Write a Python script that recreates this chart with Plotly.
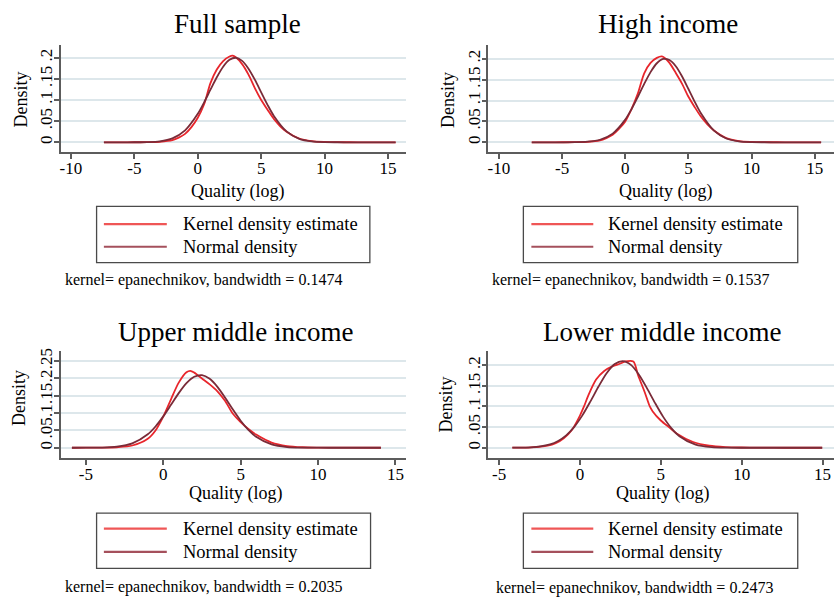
import plotly.graph_objects as go

W, H = 834, 598
SERIF = "Liberation Serif, Times New Roman, serif"

# ---------------- data ----------------
panel_titles = ["Full sample", "High income", "Upper middle income", "Lower middle income"]
bandwidths = ["0.1474", "0.1537", "0.2035", "0.2473"]
series_names = ["Kernel density estimate", "Normal density"]
x_axis_title = "Quality (log)"
y_axis_title = "Density"

x_tickvals_top = [-10, -5, 0, 5, 10, 15]
x_ticktext_top = ["-10", "-5", "0", "5", "10", "15"]
x_tickvals_bottom = [-5, 0, 5, 10, 15]
x_ticktext_bottom = ["-5", "0", "5", "10", "15"]
y_tickvals_a = [0, 0.05, 0.1, 0.15, 0.2]
y_ticktext_a = ["0", ".05", ".1", ".15", ".2"]
y_tickvals_b = [0, 0.05, 0.1, 0.15, 0.2, 0.25]
y_ticktext_b = ["0", ".05", ".1", ".15", ".2", ".25"]

# Full sample
full_kde_x = [-7.4, -6, -5, -4, -3, -2, -1.5, -1, -0.5, 0, 0.5, 1, 1.5, 2, 2.5, 2.75, 3, 3.5, 4, 4.5,
              5, 5.5, 6, 6.5, 7, 8, 9, 10, 11, 12, 13, 15.6]
full_kde_y = [0, 0, 0.0001, 0.0003, 0.0012, 0.005, 0.011, 0.02, 0.036, 0.058, 0.09, 0.14, 0.172, 0.192,
              0.203, 0.205, 0.201, 0.185, 0.16, 0.128, 0.1, 0.077, 0.055, 0.038, 0.025, 0.009, 0.003,
              0.001, 0.0003, 0.0001, 0, 0]
full_norm_x = [-7.4, -6, -5, -4, -3, -2, -1, 0, 0.5, 1, 1.5, 2, 2.5, 3, 3.5, 4, 4.5, 5, 5.5, 6, 7, 8,
               9, 10, 11, 12, 15.6]
full_norm_y = [0, 0, 0.0001, 0.0005, 0.0024, 0.0094, 0.0284, 0.0674, 0.0945, 0.1244, 0.1538, 0.1787,
               0.195, 0.2, 0.1926, 0.1742, 0.1482, 0.1183, 0.0887, 0.0625, 0.0258, 0.0082, 0.0021,
               0.0004, 0.0001, 0, 0]

# High income
high_kde_x = [-7.4, -6, -5, -4, -3, -2, -1.5, -1, -0.5, 0, 0.5, 1, 1.5, 2, 2.5, 2.9, 3.2, 3.5, 4, 4.5,
              5, 5.5, 6, 6.5, 7, 8, 9, 10, 11, 12, 13, 15.5]
high_kde_y = [0, 0, 0.0001, 0.0003, 0.001, 0.0045, 0.01, 0.018, 0.032, 0.05, 0.08, 0.117, 0.165, 0.19,
              0.202, 0.2055, 0.2, 0.19, 0.166, 0.14, 0.109, 0.084, 0.061, 0.043, 0.029, 0.01, 0.003,
              0.001, 0.0003, 0.0001, 0, 0]
high_norm_x = [-7.4, -6, -5, -4, -3, -2, -1, 0, 0.5, 1, 1.5, 2, 2.5, 3, 3.5, 4, 4.5, 5, 5.5, 6, 7, 8,
               9, 10, 11, 12, 15.5]
high_norm_y = [0, 0, 0, 0.0002, 0.0014, 0.0061, 0.0208, 0.0543, 0.0795, 0.1089, 0.1398, 0.168, 0.1892,
               0.1994, 0.1968, 0.1819, 0.1574, 0.1275, 0.0968, 0.0687, 0.0285, 0.0091, 0.0022, 0.0004,
               0.0001, 0, 0]

# Upper middle income
upper_kde_x = [-5.9, -5, -4, -3, -2, -1, -0.5, 0, 0.5, 1, 1.5, 1.75, 2, 2.5, 3, 3.5, 4, 4.5, 5, 5.5,
               6, 7, 8, 9, 10, 11, 12, 14.06]
upper_kde_y = [0, 0.0001, 0.0004, 0.0015, 0.0065, 0.026, 0.05, 0.09, 0.14, 0.188, 0.218, 0.222, 0.217,
               0.2, 0.183, 0.163, 0.135, 0.098, 0.074, 0.054, 0.038, 0.015, 0.005, 0.0015, 0.0005,
               0.0002, 0.0001, 0]
upper_norm_x = [-5.9, -5, -4, -3, -2, -1, -0.5, 0, 0.5, 1, 1.5, 2, 2.5, 3, 3.5, 4, 4.5, 5, 5.5, 6, 7,
                8, 9, 10, 11, 14.06]
upper_norm_y = [0, 0.0001, 0.0005, 0.003, 0.0124, 0.0388, 0.0614, 0.0906, 0.124, 0.1578, 0.1866,
                0.2051, 0.2097, 0.1992, 0.176, 0.1445, 0.1103, 0.0782, 0.0516, 0.0316, 0.0096, 0.0021,
                0.0004, 0.0001, 0, 0]

# Lower middle income
lower_kde_x = [-4.18, -3, -2, -1.5, -1, -0.5, 0, 0.25, 0.5, 1, 1.5, 2, 2.5, 2.8, 3.3, 3.6, 4, 4.32,
               4.5, 5, 5.5, 6, 7, 8, 9, 10, 11, 12, 13, 14.98]
lower_kde_y = [0.0001, 0.0008, 0.005, 0.011, 0.023, 0.043, 0.078, 0.1, 0.125, 0.165, 0.186, 0.197,
               0.204, 0.209, 0.209, 0.175, 0.135, 0.1, 0.088, 0.066, 0.05, 0.034, 0.014, 0.005,
               0.0017, 0.0006, 0.0002, 0.0001, 0, 0]
lower_norm_x = [-4.18, -2.85, -1.85, -1.35, -0.85, -0.35, 0.15, 0.65, 1.15, 1.65, 2.15, 2.65, 3.15,
                3.65, 4.15, 4.65, 5.15, 5.65, 6.15, 7.15, 8.15, 9.15, 10.15, 14.98]
lower_norm_y = [0.0001, 0.0017, 0.0083, 0.0165, 0.0301, 0.0506, 0.0784, 0.1123, 0.1482, 0.1804,
                0.2026, 0.21, 0.2007, 0.177, 0.1439, 0.108, 0.0748, 0.0477, 0.0281, 0.0076, 0.0015,
                0.0002, 0, 0]

# ---------------- styling / layout ----------------
KDE_COLOR = "#e8262c"
NORM_COLOR = "#7a2b38"
AXIS_COLOR = "#5c5c5c"
GRID_COLOR = "#dde7eb"


def px(x):
    return x / W


def py(y):
    return 1 - y / H


panels = [
    dict(kx=full_kde_x, ky=full_kde_y, nx=full_norm_x, ny=full_norm_y,
         dom_x=(60, 405), dom_y=(42.7, 150), xr=[-10.79, 16.38], yr=[-0.0235, 0.229],
         xt=(x_tickvals_top, x_ticktext_top), yt=(y_tickvals_a, y_ticktext_a),
         title_pos=(237, 21), ytitle_pos=(20, 97), xtitle_pos=(237, 189),
         legend_box=(95.7, 204.3, 369.3, 261), legend_rows=(222.3, 245),
         legend_line=(103, 166), legend_text_x=180, note_pos=(62, 278)),
    dict(kx=high_kde_x, ky=high_kde_y, nx=high_norm_x, ny=high_norm_y,
         dom_x=(488, 834), dom_y=(42.7, 150), xr=[-10.83, 16.52], yr=[-0.0238, 0.2317],
         xt=(x_tickvals_top, x_ticktext_top), yt=(y_tickvals_a, y_ticktext_a),
         title_pos=(668, 21), ytitle_pos=(447, 97), xtitle_pos=(665, 189),
         legend_box=(523, 204.3, 797.7, 261), legend_rows=(222.3, 245),
         legend_line=(531, 593), legend_text_x=606, note_pos=(490, 278)),
    dict(kx=upper_kde_x, ky=upper_kde_y, nx=upper_norm_x, ny=upper_norm_y,
         dom_x=(60, 405), dom_y=(350, 457.3), xr=[-6.61, 15.65], yr=[-0.0296, 0.2787],
         xt=(x_tickvals_bottom, x_ticktext_bottom), yt=(y_tickvals_b, y_ticktext_b),
         title_pos=(235, 331), ytitle_pos=(18, 397), xtitle_pos=(235, 493),
         legend_box=(95.7, 512.7, 370, 568.3), legend_rows=(528.3, 551.7),
         legend_line=(103, 166), legend_text_x=180, note_pos=(62, 587)),
    dict(kx=lower_kde_x, ky=lower_kde_y, nx=lower_norm_x, ny=lower_norm_y,
         dom_x=(488, 834), dom_y=(350, 457.3), xr=[-5.66, 15.71], yr=[-0.0248, 0.2337],
         xt=(x_tickvals_bottom, x_ticktext_bottom), yt=(y_tickvals_a, y_ticktext_a),
         title_pos=(662, 331), ytitle_pos=(446, 403), xtitle_pos=(662, 493),
         legend_box=(523, 512.7, 797.7, 568.3), legend_rows=(528.3, 551.7),
         legend_line=(531, 593), legend_text_x=606, note_pos=(494, 588)),
]

fig = go.Figure()
annotations = []
shapes = []
layout_axes = {}

for i, p in enumerate(panels):
    n = i + 1
    xa = "x" if n == 1 else f"x{n}"
    ya = "y" if n == 1 else f"y{n}"
    fig.add_trace(go.Scatter(x=p["kx"], y=p["ky"], mode="lines", name=series_names[0],
                             line=dict(color=KDE_COLOR, width=1.8, shape="spline", smoothing=0.8),
                             xaxis=xa, yaxis=ya, showlegend=False, hoverinfo="skip"))
    fig.add_trace(go.Scatter(x=p["nx"], y=p["ny"], mode="lines", name=series_names[1],
                             line=dict(color=NORM_COLOR, width=1.8, shape="spline", smoothing=0.8),
                             xaxis=xa, yaxis=ya, showlegend=False, hoverinfo="skip"))

    xkey = "xaxis" if n == 1 else f"xaxis{n}"
    ykey = "yaxis" if n == 1 else f"yaxis{n}"
    layout_axes[xkey] = dict(
        domain=[px(p["dom_x"][0]), px(p["dom_x"][1])], range=p["xr"], anchor=ya,
        showline=True, linecolor=AXIS_COLOR, linewidth=1.5,
        ticks="outside", ticklen=5, tickwidth=1.5, tickcolor=AXIS_COLOR,
        tickmode="array", tickvals=p["xt"][0], ticktext=p["xt"][1],
        tickfont=dict(family=SERIF, size=17, color="black"), ticklabelstandoff=-5,
        showgrid=False, zeroline=False, fixedrange=True)
    layout_axes[ykey] = dict(
        domain=[py(p["dom_y"][1]), py(p["dom_y"][0])], range=p["yr"], anchor=xa,
        showline=True, linecolor=AXIS_COLOR, linewidth=1.5,
        ticks="outside", ticklen=5, tickwidth=1.5, tickcolor=AXIS_COLOR,
        tickmode="array", tickvals=p["yt"][0], ticktext=p["yt"][1], tickangle=-90,
        tickfont=dict(family=SERIF, size=17, color="black"), ticklabelstandoff=-5,
        showgrid=True, gridcolor=GRID_COLOR, gridwidth=1.5, zeroline=False, fixedrange=True)

    # panel title
    annotations.append(dict(text=panel_titles[i], x=px(p["title_pos"][0]), y=py(p["title_pos"][1]),
                            xref="paper", yref="paper", showarrow=False, xanchor="center",
                            yanchor="middle", font=dict(family=SERIF, size=27, color="black")))
    # axis titles
    annotations.append(dict(text=y_axis_title, x=px(p["ytitle_pos"][0]), y=py(p["ytitle_pos"][1]),
                            xref="paper", yref="paper", showarrow=False, textangle=-90,
                            xanchor="center", yanchor="middle",
                            font=dict(family=SERIF, size=18, color="black")))
    annotations.append(dict(text=x_axis_title, x=px(p["xtitle_pos"][0]), y=py(p["xtitle_pos"][1]),
                            xref="paper", yref="paper", showarrow=False, xanchor="center",
                            yanchor="middle", font=dict(family=SERIF, size=18, color="black")))
    # legend box
    bx0, by0, bx1, by1 = p["legend_box"]
    shapes.append(dict(type="rect", xref="paper", yref="paper", x0=px(bx0), x1=px(bx1),
                       y0=py(by1), y1=py(by0), line=dict(color="#4a4a4a", width=1.3),
                       fillcolor="white", layer="above"))
    for k, (row_y, col) in enumerate(zip(p["legend_rows"], ["#ef5656", "#a5505c"])):
        shapes.append(dict(type="line", xref="paper", yref="paper",
                           x0=px(p["legend_line"][0]), x1=px(p["legend_line"][1]),
                           y0=py(row_y), y1=py(row_y), line=dict(color=col, width=2.2),
                           layer="above"))
        annotations.append(dict(text=series_names[k], x=px(p["legend_text_x"]), y=py(row_y),
                                xref="paper", yref="paper", showarrow=False, xanchor="left",
                                yanchor="middle", font=dict(family=SERIF, size=18.5, color="black")))
    # note
    annotations.append(dict(text=f"kernel= epanechnikov, bandwidth = {bandwidths[i]}",
                            x=px(p["note_pos"][0]), y=py(p["note_pos"][1]), xref="paper",
                            yref="paper", showarrow=False, xanchor="left", yanchor="middle",
                            font=dict(family=SERIF, size=16, color="black")))

fig.update_layout(
    width=W, height=H, margin=dict(l=0, r=0, t=0, b=0),
    paper_bgcolor="white", plot_bgcolor="white",
    showlegend=False, annotations=annotations, shapes=shapes,
    font=dict(family=SERIF, color="black"),
    **layout_axes,
)

fig.write_html("out.html", config={"displayModeBar": False},
               post_script="document.body.style.margin='0';document.body.style.overflow='hidden';")
